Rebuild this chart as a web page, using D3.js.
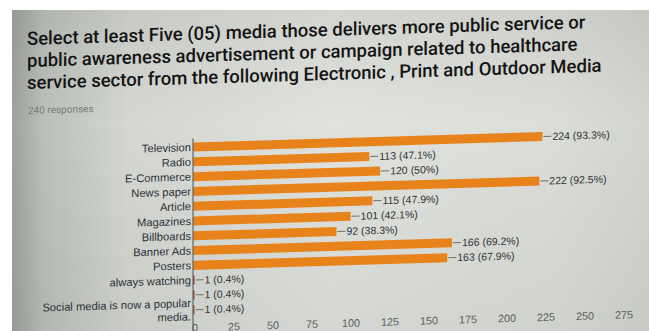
<!DOCTYPE html>
<html>
<head>
<meta charset="utf-8">
<script src="https://cdn.jsdelivr.net/npm/d3@7"></script>
<style>
  html, body { margin: 0; padding: 0; background: #ffffff; overflow: hidden; }
  svg { display: block; }
</style>
</head>
<body>
<svg id="chart" width="649" height="331"></svg>
<script>
// Question text and response count
const titleLines = [
  "Select at least Five (05) media those delivers more public service or",
  "public awareness advertisement or campaign related to healthcare",
  "service sector from the following Electronic , Print and Outdoor Media"
];
const responsesText = "240 responses";
const totalResponses = 240;

// Answer options and how many respondents picked each
const categories = [
  "Television", "Radio", "E-Commerce", "News paper", "Article", "Magazines",
  "Billboards", "Banner Ads", "Posters", "always watching", "",
  "Social media is now a popular media."
];
const counts = [224, 113, 120, 222, 115, 101, 92, 166, 163, 1, 1, 1];

// Count axis ticks
const tickValues = [0, 25, 50, 75, 100, 125, 150, 175, 200, 225, 250, 275];

const svg = d3.select("#chart");
const W = 649, H = 331;

// Screen backdrop: lighter centre, darker towards the left edge
const defs = svg.append("defs");
const bg = defs.append("linearGradient").attr("id", "screen").attr("x1", "0").attr("x2", "1").attr("y1", "0").attr("y2", "0");
[[0, "#9ea29c"], [0.05, "#bcc0ba"], [0.18, "#d4d7d1"], [0.5, "#e0e2dd"], [0.85, "#dbddd8"], [1, "#d2d5cf"]]
  .forEach(([o, c]) => bg.append("stop").attr("offset", o).attr("stop-color", c));
const vshade = defs.append("linearGradient").attr("id", "vshade").attr("x1", "0").attr("x2", "0").attr("y1", "0").attr("y2", "1");
[[0, "#000", 0.06], [0.35, "#000", 0], [1, "#000", 0.05]]
  .forEach(([o, c, a]) => vshade.append("stop").attr("offset", o).attr("stop-color", c).attr("stop-opacity", a));

svg.append("rect").attr("x", 0).attr("y", 0).attr("width", W).attr("height", H).attr("fill", "#ffffff");
svg.append("rect").attr("x", 12).attr("y", 10).attr("width", W - 12).attr("height", H - 10).attr("fill", "url(#screen)");
svg.append("rect").attr("x", 12).attr("y", 10).attr("width", W - 12).attr("height", H - 10).attr("fill", "url(#vshade)");

// The page is viewed at a slight angle: shear everything around the axis line
const axisX = 193;
const g = svg.append("g")
  .attr("transform", `translate(${axisX},0) skewY(-1.72) translate(${-axisX},0)`);

// Title
g.append("g")
  .selectAll("text")
  .data(titleLines)
  .join("text")
  .attr("x", 27)
  .attr("y", (d, i) => 40 + i * 22)
  .attr("font-family", "Roboto, 'Liberation Sans', Arial, sans-serif")
  .attr("font-size", 18.5)
  .attr("font-weight", 500)
  .attr("fill", "#141414")
  .text(d => d);

g.append("text")
  .attr("x", 28)
  .attr("y", 109)
  .attr("font-family", "Roboto, 'Liberation Sans', Arial, sans-serif")
  .attr("font-size", 10)
  .attr("fill", "#767a78")
  .text(responsesText);

// Scales
const x = d3.scaleLinear().domain([0, 275]).range([axisX, 622]);
const rowTop = 139.6, rowStep = 14.8;
const y = d3.scaleBand()
  .domain(d3.range(categories.length))
  .range([rowTop, rowTop + rowStep * categories.length])
  .paddingInner(0.39)
  .paddingOuter(0.2);

const barColor = "#e8831b";
const labelFont = "'Liberation Sans', Arial, sans-serif";

// Bars
g.append("g")
  .selectAll("rect")
  .data(counts)
  .join("rect")
  .attr("x", x(0))
  .attr("y", (d, i) => y(i))
  .attr("width", d => x(d) - x(0))
  .attr("height", y.bandwidth())
  .attr("fill", (d, i) => d < 5 ? "#b8552e" : barColor);

// Value annotations: short leader line then "count (pct%)"
const pct = v => {
  const s = d3.format(".1f")(v / totalResponses * 100);
  return s.endsWith(".0") ? s.slice(0, -2) : s;
};
const ann = g.append("g").selectAll("g")
  .data(counts)
  .join("g")
  .attr("transform", (d, i) => `translate(${x(d)},${y(i) + y.bandwidth() / 2})`);
ann.append("line")
  .attr("x1", 1).attr("x2", 9)
  .attr("stroke", "#6d6f6e").attr("stroke-width", 1);
ann.append("text")
  .attr("x", 10)
  .attr("dy", "0.35em")
  .attr("font-family", labelFont)
  .attr("font-size", 10.5)
  .attr("fill", "#2f3233")
  .text(d => `${d} (${pct(d)}%)`);

// Category labels (wrap the long one onto two lines)
const wrapLabel = s => s.length > 30 ? [s.slice(0, s.lastIndexOf(" ")), s.slice(s.lastIndexOf(" ") + 1)] : [s];
const catG = g.append("g").selectAll("text")
  .data(categories)
  .join("text")
  .attr("x", axisX - 2)
  .attr("y", (d, i) => y(i) + y.bandwidth() / 2)
  .attr("text-anchor", "end")
  .attr("font-family", labelFont)
  .attr("font-size", 11.2)
  .attr("fill", "#2c3038");
catG.each(function (d) {
  const lines = wrapLabel(d);
  const t = d3.select(this);
  lines.forEach((ln, k) => {
    t.append("tspan")
      .attr("x", axisX - 2)
      .attr("dy", k === 0 ? `${0.35 - (lines.length - 1) * 0.6}em` : "1.2em")
      .text(ln);
  });
});

// Vertical baseline of the bars
g.append("line")
  .attr("x1", axisX).attr("x2", axisX)
  .attr("y1", rowTop - 1).attr("y2", 336)
  .attr("stroke", "#4a5058").attr("stroke-width", 1);

// Count axis tick labels
g.append("g")
  .selectAll("text")
  .data(tickValues)
  .join("text")
  .attr("x", d => x(d) + 2)
  .attr("y", 331.5)
  .attr("text-anchor", "middle")
  .attr("font-family", labelFont)
  .attr("font-size", 10.8)
  .attr("fill", "#5a5e60")
  .text(d => d);
</script>
</body>
</html>
